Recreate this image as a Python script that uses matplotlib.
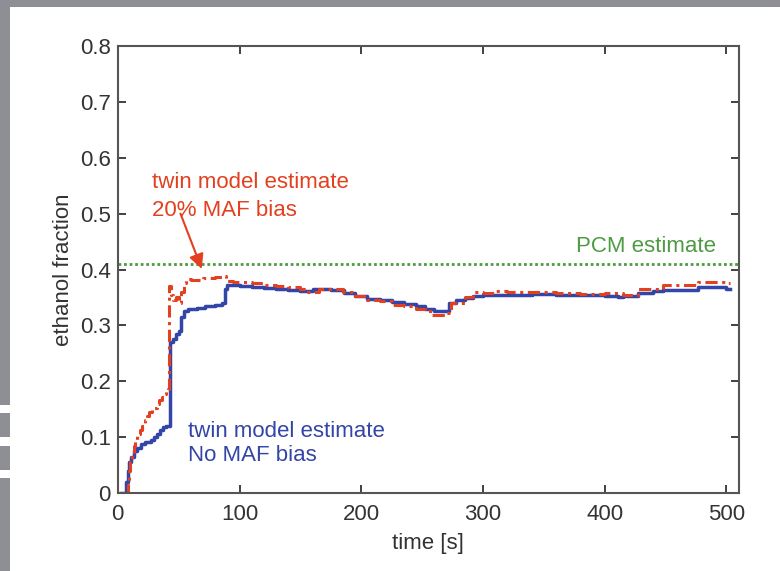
import matplotlib.pyplot as plt
from matplotlib.patches import Rectangle

# time [s] / ethanol fraction
t_blue = [3, 7, 8, 9, 11, 13, 16, 19, 22, 27, 30, 32, 35, 37, 40, 42.5, 45, 48, 50, 52,
          54, 58, 65, 72, 80, 86, 88, 90, 100, 110, 120, 130, 140, 150, 160, 175, 186,
          195, 205, 215, 225, 235, 245, 252, 260, 272, 278, 285, 292, 300, 320, 340,
          360, 380, 400, 411, 415, 427, 440, 448, 465, 477, 490, 500, 503]
y_blue = [0.0, 0.02, 0.04, 0.055, 0.065, 0.075, 0.08, 0.088, 0.091, 0.095, 0.1, 0.105,
          0.113, 0.118, 0.12, 0.27, 0.275, 0.285, 0.29, 0.315, 0.325, 0.33, 0.332, 0.335,
          0.337, 0.34, 0.365, 0.372, 0.371, 0.369, 0.367, 0.366, 0.363, 0.362, 0.365,
          0.363, 0.358, 0.352, 0.347, 0.345, 0.341, 0.339, 0.334, 0.329, 0.325, 0.34,
          0.345, 0.349, 0.353, 0.355, 0.355, 0.356, 0.354, 0.354, 0.352, 0.35, 0.353,
          0.358, 0.362, 0.363, 0.363, 0.368, 0.369, 0.366, 0.366]

t_red = [6, 8, 9, 10, 11.5, 13, 14, 16, 18, 20, 22, 24, 26, 28, 30, 32, 34, 36, 38, 40,
         41.5, 42, 43.5, 45, 48, 50, 52, 54, 56, 60, 70, 80, 86, 89, 95, 100, 110, 120,
         130, 140, 150, 155, 165, 185, 195, 205, 215, 225, 235, 245, 252, 258, 270, 274,
         285, 292, 300, 310, 320, 340, 360, 380, 400, 415, 427, 440, 448, 465, 477, 490,
         500, 503]
y_red = [0.0, 0.02, 0.04, 0.055, 0.07, 0.085, 0.095, 0.105, 0.113, 0.12, 0.13, 0.138,
         0.145, 0.148, 0.152, 0.16, 0.167, 0.172, 0.177, 0.183, 0.187, 0.37, 0.355, 0.345,
         0.35, 0.34, 0.36, 0.375, 0.383, 0.382, 0.384, 0.386, 0.388, 0.38, 0.377, 0.378,
         0.375, 0.373, 0.371, 0.368, 0.365, 0.36, 0.365, 0.36, 0.352, 0.345, 0.343, 0.337,
         0.334, 0.33, 0.325, 0.318, 0.322, 0.34, 0.35, 0.36, 0.358, 0.362, 0.36, 0.36,
         0.358, 0.357, 0.358, 0.355, 0.365, 0.366, 0.372, 0.373, 0.377, 0.378, 0.376,
         0.376]

pcm_value = 0.41

xticks = [0, 100, 200, 300, 400, 500]
yticks = [0, 0.1, 0.2, 0.3, 0.4, 0.5, 0.6, 0.7, 0.8]
ytick_labels = ["0", "0.1", "0.2", "0.3", "0.4", "0.5", "0.6", "0.7", "0.8"]

red = "#e2401e"
blue = "#3345a6"
green = "#4f9a45"
frame_grey = "#8e8f94"

plt.rcParams['font.family'] = ['Liberation Sans', 'DejaVu Sans']
plt.rcParams['font.size'] = 16

fig = plt.figure(figsize=(7.8, 5.71), dpi=100)
ax = fig.add_axes([0.151, 0.1366, 0.796, 0.7828])

ax.axhline(pcm_value, color=green, lw=2, ls=(0, (1, 1)))
ax.plot(t_blue, y_blue, color=blue, lw=2.5, drawstyle="steps-post")
ax.plot(t_red, y_red, color=red, lw=2.2, ls=(0, (4, 1.5, 1, 1.5)), drawstyle="steps-post")

ax.set_xlim(0, 510)
ax.set_ylim(0, 0.8)
ax.set_xticks(xticks)
ax.set_yticks(yticks)
ax.set_yticklabels(ytick_labels)
ax.tick_params(direction="in", top=True, right=True, length=6, width=1.3,
               colors="#333333", labelsize=16, pad=5)
ax.tick_params(axis="x", pad=8)
for s in ax.spines.values():
    s.set_color("#555555")
    s.set_linewidth(1.5)

ax.set_xlabel("time [s]", color="#333333", labelpad=6)
ax.set_ylabel("ethanol fraction", color="#333333", labelpad=4)

# annotations
ax.text(28, 0.531, "twin model estimate\n20% MAF bias", color=red, fontsize=16,
        va="center", ha="left", linespacing=1.4)
ax.annotate("", xy=(69, 0.401), xytext=(51.5, 0.5),
            arrowprops=dict(arrowstyle="-|>", color=red, lw=1.5,
                            mutation_scale=22, shrinkA=0, shrinkB=0))
ax.text(491, 0.431, "PCM estimate", color=green, fontsize=16, ha="right", va="baseline")
ax.text(58, 0.088, "twin model estimate\nNo MAF bias", color=blue, fontsize=16,
        va="center", ha="left", linespacing=1.2)

# grey page frame around the scanned figure
fig.add_artist(Rectangle((0, 1 - 7 / 571), 1, 7 / 571, transform=fig.transFigure,
                         color=frame_grey, lw=0))
for y0, y1 in [(7, 405), (413, 437), (446, 470), (478, 571)]:
    fig.add_artist(Rectangle((0, 1 - y1 / 571), 10 / 780, (y1 - y0) / 571,
                             transform=fig.transFigure, color=frame_grey, lw=0))

fig.savefig("out.png", dpi=100)
